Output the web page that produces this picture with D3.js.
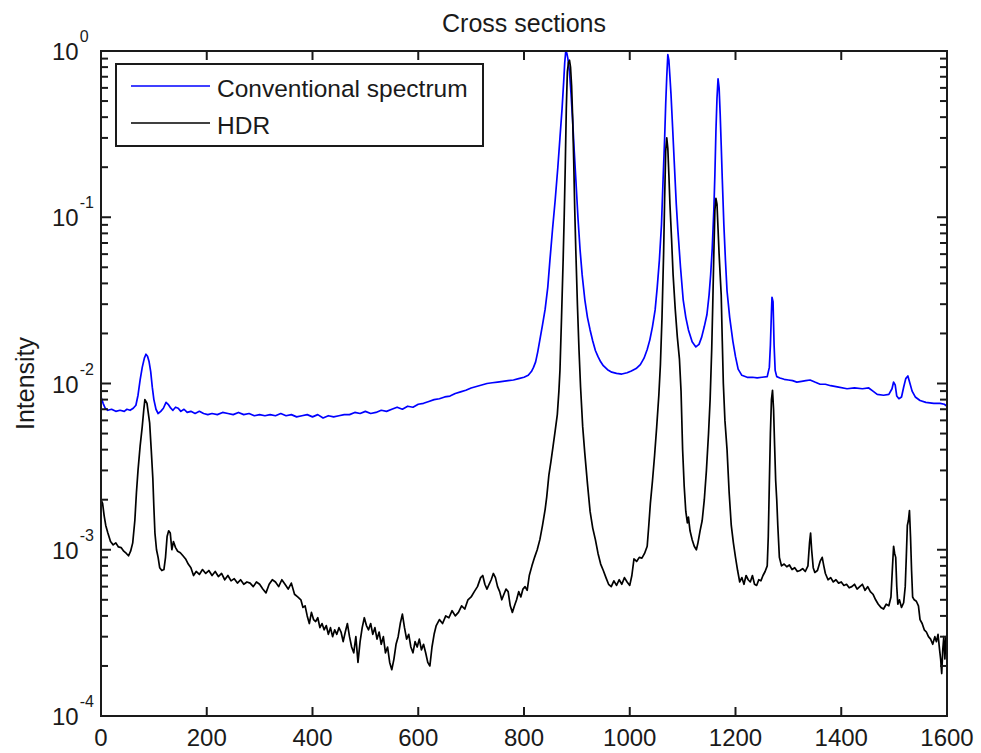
<!DOCTYPE html>
<html>
<head>
<meta charset="utf-8">
<script src="https://cdn.jsdelivr.net/npm/d3@7"></script>
<style>
  html, body { margin: 0; padding: 0; background: #fff; }
  svg { display: block; }
  text { font-family: "Liberation Sans", Arial, Helvetica, sans-serif; fill: #1a1a1a; }
</style>
</head>
<body>
<svg id="chart" width="981" height="753"></svg>
<script>
// ---------------- DATA ----------------
const chartTitle = "Cross sections";
const yLabel = "Intensity";
const seriesNames = ["Conventional spectrum", "HDR"];
const seriesColors = ["#0000ff", "#000000"];
const xTicks = [0, 200, 400, 600, 800, 1000, 1200, 1400, 1600];
const yTickExponents = [-4, -3, -2, -1, 0];

// Conventional spectrum: [position, intensity]
const convData = [
[0,0.0083],[4,0.0076],[8,0.0071],[13,0.0069],[20,0.0070],[28,0.0068],[36,0.0069],[44,0.0068],[49,0.0070],[55,0.0069],
[61,0.0071],[66,0.0074],[70,0.0085],[74,0.0105],[78,0.0125],[82,0.0142],[85,0.0150],[88,0.0146],[91,0.0135],[94,0.0118],
[97,0.0095],[100,0.0080],[104,0.0070],[108,0.0066],[113,0.0068],[118,0.0071],[123,0.0077],[127,0.0075],[132,0.0071],[136,0.0069],
[141,0.0072],[146,0.0071],[151,0.0068],[157,0.0070],[163,0.0067],[170,0.0068],[178,0.0066],[186,0.0068],[194,0.0066],[202,0.0065],
[210,0.0066],[220,0.0065],[230,0.0067],[240,0.0066],[250,0.0065],[260,0.0067],[270,0.0065],[280,0.0066],[290,0.0064],[300,0.0065],
[310,0.0064],[320,0.0065],[330,0.0064],[340,0.0066],[350,0.0064],[360,0.0065],[370,0.0063],[380,0.0064],[390,0.0065],[400,0.0063],
[410,0.0065],[420,0.0062],[430,0.0064],[440,0.0063],[450,0.0064],[460,0.0065],[470,0.0065],[480,0.0067],[490,0.0066],[500,0.0068],
[510,0.0066],[520,0.0067],[530,0.0069],[540,0.0068],[550,0.0070],[560,0.0072],[570,0.0070],[580,0.0073],[590,0.0072],[600,0.0075],
[610,0.0076],[620,0.0078],[630,0.0080],[640,0.0081],[650,0.0083],[660,0.0084],[670,0.0087],[680,0.0089],[690,0.0091],[700,0.0094],
[710,0.0096],[720,0.0098],[730,0.0100],[740,0.0101],[750,0.0102],[760,0.0103],[770,0.0104],[780,0.0105],[790,0.0107],[800,0.0109],
[808,0.0112],[814,0.0118],[818,0.0125],[822,0.0135],[826,0.0155],[830,0.0183],[835,0.0225],[840,0.0280],[845,0.0380],[849,0.0550],
[854,0.085],[859,0.127],[864,0.20],[868,0.30],[872,0.45],[875,0.65],[877,0.85],[879,1.0],[881,0.97],[883,0.90],
[886,0.75],[889,0.55],[892,0.38],[895,0.25],[898,0.17],[902,0.10],[906,0.064],[910,0.045],[915,0.032],[920,0.025],
[925,0.021],[930,0.018],[935,0.0158],[940,0.0145],[945,0.0135],[950,0.0128],[958,0.0121],[966,0.0117],[975,0.0115],[985,0.0114],
[995,0.0116],[1003,0.0119],[1012,0.0123],[1020,0.0130],[1027,0.0142],[1033,0.0160],[1038,0.0183],[1043,0.0220],[1048,0.0277],[1052,0.038],
[1056,0.055],[1060,0.090],[1063,0.167],[1066,0.30],[1068,0.48],[1070,0.70],[1072,0.95],[1074,0.88],[1076,0.70],[1078,0.55],
[1081,0.35],[1084,0.22],[1088,0.12],[1091,0.084],[1096,0.050],[1101,0.032],[1106,0.025],[1111,0.021],[1118,0.0178],[1125,0.0166],
[1131,0.0172],[1136,0.0190],[1141,0.0220],[1146,0.0260],[1150,0.034],[1153,0.045],[1156,0.065],[1159,0.11],[1161,0.18],[1163,0.33],
[1165,0.52],[1167,0.68],[1169,0.60],[1171,0.42],[1173,0.27],[1175,0.17],[1178,0.090],[1181,0.055],[1184,0.036],[1189,0.025],
[1195,0.018],[1200,0.0145],[1205,0.0122],[1212,0.0112],[1222,0.0109],[1232,0.0109],[1241,0.0108],[1250,0.0109],[1260,0.0110],[1264,0.0125],
[1266,0.017],[1268,0.027],[1269,0.033],[1271,0.031],[1273,0.017],[1275,0.012],[1278,0.0110],[1284,0.0108],[1292,0.0106],[1300,0.0105],
[1308,0.0104],[1316,0.0102],[1325,0.0103],[1333,0.0104],[1341,0.0105],[1350,0.0102],[1360,0.0099],[1370,0.0099],[1380,0.0097],[1395,0.0095],
[1411,0.0093],[1425,0.0094],[1440,0.0093],[1452,0.0094],[1460,0.0090],[1468,0.0086],[1480,0.0085],[1490,0.0086],[1496,0.0093],[1499,0.0102],
[1502,0.0098],[1505,0.0084],[1509,0.0081],[1514,0.0083],[1518,0.0095],[1522,0.0107],[1526,0.0111],[1530,0.0100],[1534,0.0090],[1540,0.0083],
[1549,0.0079],[1560,0.0077],[1575,0.0076],[1587,0.0076],[1595,0.0075],[1600,0.0073]
];

// HDR: [position, intensity]
const hdrData = [
[0,0.0020],[3,0.0019],[6,0.0016],[9,0.0014],[13,0.00126],[18,0.00112],[23,0.00107],[28,0.00110],[33,0.00104],[38,0.00103],
[43,0.00098],[48,0.00095],[52,0.00092],[56,0.00098],[60,0.00110],[64,0.0015],[67,0.0022],[70,0.0030],[74,0.0042],[78,0.0055],
[81,0.0070],[83,0.0080],[85,0.0078],[87,0.0076],[89,0.0068],[92,0.0058],[95,0.0040],[98,0.0027],[100,0.0018],[102,0.00126],
[105,0.00100],[108,0.00090],[111,0.00078],[115,0.00075],[119,0.00076],[122,0.00090],[125,0.00120],[128,0.00130],[131,0.00126],[134,0.00100],
[137,0.00112],[141,0.00103],[145,0.00098],[150,0.00096],[155,0.00092],[160,0.00088],[165,0.00082],[170,0.00078],[175,0.00070],[180,0.00074],
[186,0.00071],[192,0.00076],[198,0.00072],[204,0.00075],[210,0.00070],[216,0.00074],[222,0.00069],[228,0.00072],[234,0.00066],[240,0.00070],
[246,0.00065],[252,0.00067],[258,0.00063],[264,0.00066],[270,0.00062],[276,0.00064],[282,0.00063],[288,0.00060],[294,0.00064],[300,0.00062],
[306,0.00058],[312,0.00055],[318,0.00062],[324,0.00066],[330,0.00064],[336,0.00060],[342,0.00066],[348,0.00062],[354,0.00058],[360,0.00063],
[366,0.00054],[372,0.00052],[378,0.00050],[382,0.00045],[386,0.00046],[390,0.00040],[394,0.00036],[398,0.00042],[402,0.00038],[406,0.00037],
[410,0.00039],[414,0.00034],[418,0.00036],[422,0.00033],[426,0.00035],[430,0.00031],[434,0.00034],[438,0.00030],[442,0.00033],[446,0.00031],
[450,0.00034],[454,0.00032],[458,0.00028],[462,0.00032],[466,0.00036],[470,0.00030],[474,0.00026],[478,0.00024],[482,0.00030],[486,0.00021],
[490,0.00028],[494,0.00034],[498,0.00039],[502,0.00035],[506,0.00033],[510,0.00036],[514,0.00031],[518,0.00034],[522,0.00029],[526,0.00032],
[530,0.00027],[534,0.00030],[538,0.00024],[542,0.00026],[546,0.00021],[550,0.00019],[554,0.00022],[558,0.00027],[562,0.00030],[566,0.00036],
[570,0.00041],[574,0.00034],[578,0.00029],[582,0.00031],[586,0.00026],[590,0.00024],[594,0.00028],[598,0.00026],[602,0.00029],[606,0.00025],
[610,0.00027],[614,0.00024],[618,0.00021],[622,0.00020],[626,0.00026],[630,0.00031],[634,0.00035],[640,0.00038],[646,0.00036],[652,0.00040],
[658,0.00039],[664,0.00043],[670,0.00040],[676,0.00042],[682,0.00046],[688,0.00044],[694,0.00050],[700,0.00052],[706,0.00056],[712,0.00060],
[718,0.00068],[722,0.00070],[726,0.00062],[730,0.00058],[734,0.00062],[738,0.00066],[742,0.00072],[746,0.00068],[750,0.00060],[754,0.00056],
[758,0.00050],[762,0.00054],[766,0.00058],[770,0.00056],[774,0.00046],[778,0.00042],[782,0.00046],[786,0.00050],[790,0.00056],[794,0.00052],
[798,0.00058],[802,0.00060],[806,0.00057],[810,0.00070],[815,0.00080],[820,0.00090],[825,0.00100],[830,0.00115],[835,0.00140],[840,0.00175],
[843,0.00208],[847,0.0028],[851,0.0034],[855,0.0042],[859,0.0052],[863,0.0065],[866,0.0090],[868,0.0120],[871,0.025],[874,0.055],
[876,0.10],[878,0.20],[880,0.45],[882,0.75],[884,0.85],[886,0.88],[888,0.80],[890,0.62],[892,0.40],[894,0.22],
[896,0.11],[898,0.063],[901,0.030],[904,0.016],[907,0.0095],[911,0.0055],[915,0.0038],[920,0.0025],[925,0.00170],[930,0.00135],
[935,0.00115],[940,0.00095],[945,0.00082],[950,0.00075],[955,0.00068],[960,0.00062],[965,0.00060],[970,0.00065],[975,0.00061],[980,0.00066],
[985,0.00062],[990,0.00068],[995,0.00064],[1000,0.00061],[1004,0.00070],[1008,0.00088],[1013,0.00085],[1018,0.00090],[1023,0.00089],[1028,0.00095],
[1033,0.00105],[1036,0.0014],[1039,0.0019],[1043,0.0026],[1047,0.0037],[1051,0.0055],[1055,0.0085],[1058,0.013],[1061,0.025],[1064,0.060],
[1066,0.13],[1068,0.25],[1070,0.30],[1072,0.26],[1074,0.18],[1076,0.12],[1079,0.075],[1082,0.045],[1086,0.028],[1090,0.019],
[1094,0.014],[1097,0.0090],[1100,0.0040],[1103,0.0024],[1106,0.0017],[1109,0.00145],[1111,0.00157],[1114,0.00130],[1118,0.00115],[1122,0.00105],
[1126,0.00100],[1129,0.00110],[1133,0.00130],[1137,0.00150],[1141,0.00200],[1145,0.0030],[1149,0.0050],[1152,0.0080],[1155,0.016],[1157,0.030],
[1159,0.060],[1161,0.11],[1163,0.13],[1165,0.12],[1167,0.085],[1169,0.060],[1171,0.045],[1173,0.034],[1175,0.018],[1177,0.010],
[1180,0.0060],[1184,0.0040],[1188,0.0022],[1192,0.0014],[1196,0.00110],[1200,0.00090],[1204,0.00075],[1208,0.00064],[1212,0.00068],[1216,0.00062],
[1220,0.00070],[1224,0.00066],[1228,0.00064],[1232,0.00070],[1236,0.00062],[1240,0.00061],[1244,0.00066],[1248,0.00065],[1252,0.00070],[1256,0.00074],
[1260,0.00080],[1262,0.0012],[1264,0.0025],[1266,0.0050],[1268,0.0080],[1270,0.0091],[1272,0.0070],[1274,0.0042],[1276,0.0026],[1278,0.0020],
[1280,0.00140],[1283,0.00090],[1287,0.00080],[1292,0.00082],[1297,0.00079],[1302,0.00081],[1307,0.00076],[1312,0.00078],[1317,0.00074],[1322,0.00075],
[1327,0.00077],[1332,0.00074],[1337,0.00080],[1340,0.00110],[1342,0.00126],[1344,0.00100],[1347,0.00078],[1350,0.00073],[1355,0.00075],[1360,0.00085],
[1364,0.00090],[1367,0.00080],[1370,0.00072],[1375,0.00066],[1380,0.00068],[1385,0.00064],[1390,0.00066],[1395,0.00063],[1400,0.00064],[1405,0.00061],
[1410,0.00062],[1415,0.00059],[1420,0.00060],[1425,0.00062],[1430,0.00058],[1435,0.00060],[1440,0.00062],[1445,0.00057],[1450,0.00060],[1455,0.00056],
[1460,0.00054],[1465,0.00050],[1470,0.00047],[1475,0.00045],[1480,0.00044],[1485,0.00047],[1490,0.00046],[1494,0.00052],[1497,0.00080],[1499,0.00105],
[1501,0.00095],[1503,0.00090],[1505,0.00060],[1507,0.00047],[1510,0.00050],[1514,0.00045],[1518,0.00048],[1521,0.00060],[1523,0.00090],[1525,0.00140],
[1527,0.00150],[1529,0.00172],[1531,0.00120],[1533,0.00075],[1535,0.00052],[1538,0.00050],[1542,0.00049],[1546,0.00046],[1549,0.00038],[1553,0.00036],
[1557,0.00033],[1561,0.00032],[1565,0.00030],[1569,0.00029],[1573,0.00027],[1577,0.00030],[1580,0.00028],[1583,0.00031],[1586,0.00025],[1588,0.00022],
[1590,0.00018],[1592,0.00025],[1594,0.00030],[1596,0.00022],[1598,0.00030],[1600,0.00028]
];

// ---------------- LAYOUT ----------------
const M = { left: 101, top: 51, right: 947, bottom: 716 };
const svg = d3.select("#chart");
const x = d3.scaleLinear().domain([0, 1600]).range([M.left, M.right]);
const y = d3.scaleLog().domain([1e-4, 1]).range([M.bottom, M.top]);
const axisColor = "#1a1a1a";

// clip
svg.append("defs").append("clipPath").attr("id", "plotclip")
  .append("rect").attr("x", M.left).attr("y", M.top)
  .attr("width", M.right - M.left).attr("height", M.bottom - M.top);

// data lines
const line = d3.line().x(d => x(d[0])).y(d => y(d[1]));
const gLines = svg.append("g").attr("clip-path", "url(#plotclip)");
gLines.append("path").datum(convData).attr("d", line)
  .attr("fill", "none").attr("stroke", seriesColors[0]).attr("stroke-width", 1.7).attr("stroke-linejoin", "round");
gLines.append("path").datum(hdrData).attr("d", line)
  .attr("fill", "none").attr("stroke", seriesColors[1]).attr("stroke-width", 1.7).attr("stroke-linejoin", "round");

// ticks
const gT = svg.append("g").attr("stroke", axisColor).attr("stroke-width", 2);
const xTickLen = 9, yMajor = 10, yMinor = 7;
xTicks.forEach(t => {
  const px = x(t);
  gT.append("line").attr("x1", px).attr("x2", px).attr("y1", M.bottom).attr("y2", M.bottom - xTickLen);
  gT.append("line").attr("x1", px).attr("x2", px).attr("y1", M.top).attr("y2", M.top + xTickLen);
});
yTickExponents.forEach(e => {
  const py = y(Math.pow(10, e));
  gT.append("line").attr("x1", M.left).attr("x2", M.left + yMajor).attr("y1", py).attr("y2", py);
  gT.append("line").attr("x1", M.right).attr("x2", M.right - yMajor).attr("y1", py).attr("y2", py);
  if (e < 0) {
    for (let m = 2; m <= 9; m++) {
      const pm = y(m * Math.pow(10, e));
      gT.append("line").attr("x1", M.left).attr("x2", M.left + yMinor).attr("y1", pm).attr("y2", pm);
      gT.append("line").attr("x1", M.right).attr("x2", M.right - yMinor).attr("y1", pm).attr("y2", pm);
    }
  }
});

// frame
svg.append("rect").attr("x", M.left).attr("y", M.top)
  .attr("width", M.right - M.left).attr("height", M.bottom - M.top)
  .attr("fill", "none").attr("stroke", axisColor).attr("stroke-width", 2);

// x tick labels
xTicks.forEach(t => {
  svg.append("text").attr("x", x(t)).attr("y", 746).attr("text-anchor", "middle")
    .attr("font-size", 24).text(t);
});

// y tick labels
yTickExponents.forEach(e => {
  const py = y(Math.pow(10, e));
  const t = svg.append("text").attr("x", 52).attr("y", py + 9).attr("font-size", 24);
  t.append("tspan").text("10");
  t.append("tspan").attr("dx", 1).attr("dy", -18).attr("font-size", 16).text(String(e));
});

// title
svg.append("text").attr("x", (M.left + M.right) / 2).attr("y", 32)
  .attr("text-anchor", "middle").attr("font-size", 25).text(chartTitle);

// y label
svg.append("text").attr("transform", `translate(34,${(M.top + M.bottom) / 2}) rotate(-90)`)
  .attr("text-anchor", "middle").attr("font-size", 25).text(yLabel);

// legend
const lg = svg.append("g");
lg.append("rect").attr("x", 116).attr("y", 64).attr("width", 367).attr("height", 82)
  .attr("fill", "#fff").attr("stroke", axisColor).attr("stroke-width", 2);
seriesNames.forEach((name, i) => {
  const ly = 86 + i * 37;
  lg.append("line").attr("x1", 131).attr("x2", 210).attr("y1", ly).attr("y2", ly)
    .attr("stroke", seriesColors[i]).attr("stroke-width", 1.7);
  lg.append("text").attr("x", 217).attr("y", ly + 11).attr("font-size", 24.5).text(name);
});
</script>
</body>
</html>
